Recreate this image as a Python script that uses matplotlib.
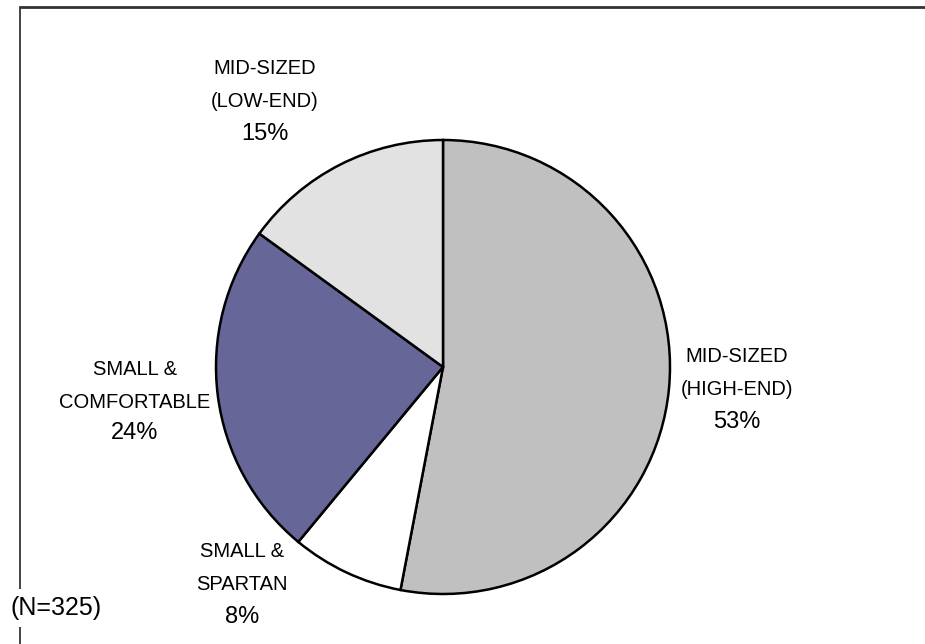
import matplotlib.pyplot as plt

plt.rcParams['font.family'] = ['Liberation Sans', 'DejaVu Sans']

segments = ['MID-SIZED\n(HIGH-END)', 'SMALL &\nSPARTAN', 'SMALL &\nCOMFORTABLE', 'MID-SIZED\n(LOW-END)']
shares = [53, 8, 24, 15]
colors = ['#c0c0c0', '#ffffff', '#666699', '#e2e2e2']
sample_note = '(N=325)'

H = 644
# label anchors in pixels from top: (x, name-block centre y, percent y)
label_pos = [(737, 373, 422), (242, 568, 617), (135, 386, 433), (265, 85, 134)]

fig = plt.figure(figsize=(9.25, 6.44), dpi=100)
ax = fig.add_axes([0, 0, 1, 1])
ax.set_xlim(0, 925)
ax.set_ylim(0, H)
ax.set_aspect('equal')
ax.axis('off')

wedges, _ = ax.pie(shares, colors=colors, startangle=90, counterclock=False,
                   center=(443, H - 367), radius=227,
                   wedgeprops=dict(edgecolor='black', linewidth=1.8))
ax.set_xlim(0, 925)
ax.set_ylim(0, H)

for name, val, (x, yn, yp) in zip(segments, shares, label_pos):
    ax.text(x, H - yn, name, ha='center', va='center',
            fontsize=14.5, linespacing=1.9, color='black')
    ax.text(x, H - yp, f'{val}%', ha='center', va='center',
            fontsize=17, color='black')

# partial frame (top and left)
ax.plot([20, 925], [637, 637], color='#333333', lw=2, solid_capstyle='butt')
ax.plot([20, 20], [0, 637], color='#222222', lw=1.2)
ax.text(56, 36, sample_note, ha='center', va='center', fontsize=18,
        color='black', bbox=dict(facecolor='white', edgecolor='none', pad=5))

fig.savefig('out.png', dpi=100)
